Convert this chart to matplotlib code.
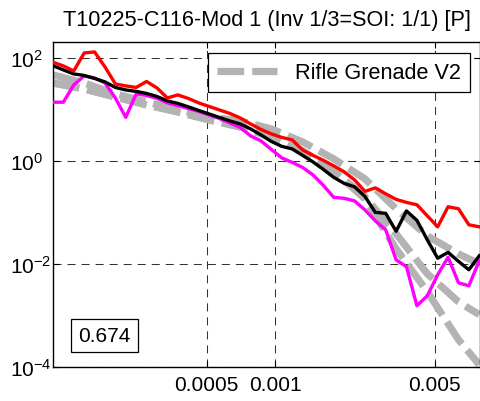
import matplotlib
matplotlib.use("Agg")
import matplotlib.pyplot as plt
from matplotlib.ticker import FixedLocator, FixedFormatter, NullLocator, LogFormatterSciNotation

plt.rcParams["font.family"] = ["Liberation Sans", "DejaVu Sans"]
plt.rcParams["mathtext.fontset"] = "custom"
plt.rcParams["mathtext.rm"] = "Liberation Sans"
plt.rcParams["mathtext.it"] = "Liberation Sans:italic"
plt.rcParams["mathtext.default"] = "regular"
plt.rcParams["lines.scale_dashes"] = False

# frequency grid of the measured spectra
freq = [1.059e-4, 1.176e-4, 1.306e-4, 1.451e-4, 1.612e-4, 1.790e-4, 1.988e-4,
        2.208e-4, 2.453e-4, 2.724e-4, 3.026e-4, 3.361e-4, 3.733e-4, 4.146e-4,
        4.605e-4, 5.115e-4, 5.681e-4, 6.310e-4, 7.009e-4, 7.785e-4, 8.647e-4,
        9.604e-4, 1.0667e-3, 1.1848e-3, 1.3160e-3, 1.4617e-3, 1.6235e-3,
        1.8032e-3, 2.0029e-3, 2.2246e-3, 2.4709e-3, 2.7445e-3, 3.0483e-3,
        3.3858e-3, 3.7606e-3, 4.1769e-3, 4.6393e-3, 5.1529e-3, 5.7234e-3,
        6.3570e-3, 7.0608e-3, 7.8425e-3]

upper = [83.6, 70.9, 56.7, 126.7, 132.6, 67.8, 31.7, 29.0, 27.1, 35.4, 26.5,
         16.9, 19.4, 16.6, 13.6, 11.6, 9.91, 8.48, 6.93, 5.30, 4.14, 3.39,
         2.90, 2.59, 1.66, 1.30, 1.04, 0.810, 0.620, 0.434, 0.259, 0.303,
         0.232, 0.181, 0.158, 0.142, 0.0867, 0.0530, 0.130, 0.119, 0.0580,
         0.0530]

middle = [71.8, 59.3, 49.6, 46.3, 40.5, 34.7, 27.1, 24.2, 22.7, 20.7, 18.1,
          14.8, 13.3, 11.4, 9.69, 8.29, 7.09, 6.06, 5.30, 4.24, 3.24, 2.42,
          1.94, 1.73, 1.30, 0.969, 0.693, 0.484, 0.371, 0.317, 0.207, 0.101,
          0.0969, 0.0434, 0.108, 0.0709, 0.0296, 0.0130, 0.0169, 0.0113,
          0.00775, 0.0145]

lower = [14.0, 14.0, 30.3, 45.3, 41.4, 33.1, 16.9, 7.09, 20.3, 18.9, 16.6,
         13.6, 12.0, 10.6, 9.27, 7.93, 6.78, 5.54, 4.53, 3.10, 2.48, 1.69,
         1.16, 0.948, 0.758, 0.542, 0.339, 0.198, 0.190, 0.169, 0.113, 0.0693,
         0.0463, 0.0121, 0.00886, 0.00155, 0.00242, 0.00620, 0.0136, 0.00433,
         0.00379, 0.0116]

# reference spectra (Rifle Grenade V2)
ref_freq = [1.059e-4, 1.451e-4, 1.988e-4, 2.724e-4, 3.733e-4, 5.115e-4,
            7.009e-4, 9.604e-4, 1.316e-3, 1.8032e-3, 2.4709e-3, 3.3858e-3,
            4.6393e-3, 6.357e-3, 7.8425e-3]
ref_a = [47.4, 33.1, 20.3, 14.2, 9.91, 7.25, 6.06, 4.24, 2.37, 1.11, 0.453,
         0.119, 0.0354, 0.0158, 0.0101]
ref_b = [33.1, 25.3, 17.7, 12.4, 9.06, 6.34, 4.63, 2.96, 1.58, 0.648, 0.203,
         0.0388, 0.00648, 0.00185, 0.00104]
ref_c = [33.1, 25.3, 17.7, 12.4, 9.06, 6.34, 4.63, 2.96, 1.58, 0.648, 0.185,
         0.0198, 0.0029, 0.000339, 0.000111]

xtick_vals = [0.0005, 0.001, 0.005]
xtick_text = ["0.0005", "0.001", "0.005"]
ytick_vals = [1e-4, 1e-2, 1e0, 1e2]

title = "T10225-C116-Mod 1 (Inv 1/3=SOI: 1/1) [P]"
legend_label = "Rifle Grenade V2"
score = "0.674"

fig = plt.figure(figsize=(4.81, 4.02), dpi=100)
ax = fig.add_axes([53 / 481, 34 / 402, 427 / 481, 325 / 402])

gray = "#b3b3b3"
dash = (0, (19.2, 5.8))
ax.plot(ref_freq, ref_a, color=gray, lw=5.2, ls=dash, dash_capstyle="butt",
        label=legend_label, zorder=2)
ax.plot(ref_freq, ref_b, color=gray, lw=5.2, ls=dash, dash_capstyle="butt", zorder=2)
ax.plot(ref_freq, ref_c, color=gray, lw=5.2, ls=dash, dash_capstyle="butt", zorder=2)

ax.plot(freq, lower, color="#ff00ff", lw=2.4, zorder=3)
ax.plot(freq, middle, color="black", lw=2.4, zorder=4)
ax.plot(freq, upper, color="#ff0000", lw=2.4, zorder=5)

ax.set_xscale("log")
ax.set_yscale("log")
ax.set_xlim(1.059e-4, 7.90e-3)
ax.set_ylim(1e-4, 207)

ax.xaxis.set_major_locator(FixedLocator(xtick_vals))
ax.xaxis.set_major_formatter(FixedFormatter(xtick_text))
ax.yaxis.set_major_locator(FixedLocator(ytick_vals))
ax.yaxis.set_major_formatter(LogFormatterSciNotation())
ax.xaxis.set_minor_locator(NullLocator())
ax.yaxis.set_minor_locator(NullLocator())

ax.tick_params(which="major", direction="in", top=True, right=True,
               length=4, width=0.8, labelsize=15)
ax.tick_params(axis="x", pad=6)
ax.tick_params(axis="y", pad=31)
for lab in ax.get_yticklabels():
    lab.set_horizontalalignment("left")

for s in ax.spines.values():
    s.set_linewidth(1.0)
    s.set_color("black")

ax.grid(True, which="major", color="#333333", lw=0.75, ls=(0, (5.8, 4.3)))
ax.set_axisbelow(True)

ax.set_title(title, fontsize=15.6, pad=12)

leg = ax.legend(loc="upper right", bbox_to_anchor=(0.977, 0.966),
                borderaxespad=0, fontsize=15.6, handlelength=2.77,
                handletextpad=0.83, borderpad=0.42, fancybox=False,
                framealpha=1, edgecolor="black")
leg.get_frame().set_linewidth(0.9)

ax.text(0.1206, 0.0969, score, transform=ax.transAxes, fontsize=15,
        ha="center", va="center", zorder=6,
        bbox=dict(boxstyle="square,pad=0.35", fc="white", ec="black", lw=0.9))

fig.savefig("out.png", dpi=100)
